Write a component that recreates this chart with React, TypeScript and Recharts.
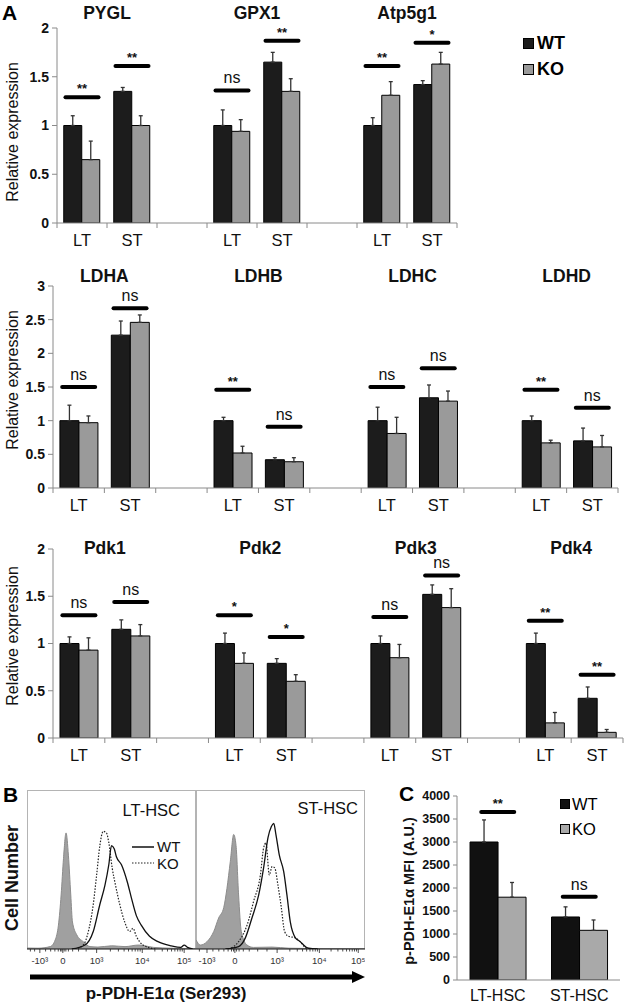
import React from 'react'
import { ComposedChart, Bar, Line, Area, XAxis, YAxis, ErrorBar } from 'recharts'

const FONT = 'Arial, "Liberation Sans", Helvetica, sans-serif'
const WT_COLOR = '#1c1c1c'
const KO_COLOR = '#9a9a9a'
const AXIS = '#8a8a8a'

const subsets = ['LT', 'ST']

// Panel A, top row
const genesTop = ['PYGL', 'GPX1', 'Atp5g1']
const wtTop = [1.0, 1.35, 1.0, 1.65, 1.0, 1.42]
const wtTopErr = [0.1, 0.04, 0.16, 0.1, 0.08, 0.04]
const koTop = [0.65, 1.0, 0.94, 1.35, 1.31, 1.63]
const koTopErr = [0.19, 0.1, 0.12, 0.13, 0.14, 0.12]
const sigTop = [1.29, 1.61, 1.36, 1.87, 1.61, 1.85]
const sigTopText = ['**', '**', 'ns', '**', '**', '*']

// Panel A, LDH row
const genesLdh = ['LDHA', 'LDHB', 'LDHC', 'LDHD']
const wtLdh = [1.0, 2.27, 1.0, 0.42, 1.0, 1.34, 1.0, 0.7]
const wtLdhErr = [0.23, 0.21, 0.05, 0.03, 0.2, 0.19, 0.07, 0.19]
const koLdh = [0.97, 2.46, 0.52, 0.39, 0.81, 1.29, 0.67, 0.61]
const koLdhErr = [0.1, 0.11, 0.1, 0.06, 0.24, 0.15, 0.04, 0.17]
const sigLdh = [1.5, 2.67, 1.46, 0.91, 1.5, 1.78, 1.46, 1.19]
const sigLdhText = ['ns', 'ns', '**', 'ns', 'ns', 'ns', '**', 'ns']

// Panel A, Pdk row
const genesPdk = ['Pdk1', 'Pdk2', 'Pdk3', 'Pdk4']
const wtPdk = [1.0, 1.15, 1.0, 0.79, 1.0, 1.52, 1.0, 0.42]
const wtPdkErr = [0.07, 0.1, 0.11, 0.05, 0.08, 0.1, 0.11, 0.12]
const koPdk = [0.93, 1.08, 0.79, 0.6, 0.85, 1.38, 0.16, 0.06]
const koPdkErr = [0.13, 0.12, 0.11, 0.07, 0.14, 0.2, 0.11, 0.03]
const sigPdk = [1.3, 1.44, 1.3, 1.07, 1.28, 1.72, 1.24, 0.67]
const sigPdkText = ['ns', 'ns', '*', '*', 'ns', 'ns', '**', '**']

// Panel C
const mfiCats = ['LT-HSC', 'ST-HSC']
const wtMfi = [3000, 1370]
const wtMfiErr = [480, 220]
const koMfi = [1800, 1080]
const koMfiErr = [320, 225]
const sigMfi = [3650, 1810]
const sigMfiText = ['**', 'ns']

// Panel B histograms (x: % of box width, y: % of box height)
const ltIsoX = [0, 6.5, 13.7, 16.7, 18.6, 20.2, 21.6, 23.1, 24.5, 25.9, 26.9, 29.4, 33.3, 37.3, 42, 50, 58, 66, 75, 85, 100]
const ltIsoY = [0.6, 0.5, 1.5, 5.7, 15, 34, 57, 73, 59, 34, 17, 9, 4.6, 1.5, 1.2, 2, 1.5, 2.5, 1, 0.5, 0]
const ltWtX = [26.5, 34.3, 39.2, 43.1, 46.1, 48.4, 50, 51.6, 52.9, 55.9, 59.4, 61.8, 64.7, 67.6, 72.5, 77.5, 85.3, 91, 93, 95, 98]
const ltWtY = [0, 2.5, 11, 28, 40, 53, 65, 63, 58, 53, 42, 32, 21, 15, 8, 4.6, 2, 1, 2.5, 1, 0]
const ltKoX = [28.4, 33.3, 36.3, 39.2, 41.2, 43.1, 45.1, 47, 48.4, 50.4, 52.4, 54.9, 57.8, 60.8, 62.7, 64.7, 68.6, 76]
const ltKoY = [0, 2.5, 11, 28, 46.5, 65, 74, 73, 67, 51, 40, 28, 17, 11, 13, 8, 2.5, 0]

const stIsoX = [0, 2.6, 6.5, 10.5, 13.4, 16.4, 18.3, 20.3, 22.3, 23.7, 25.2, 26.8, 30.2, 34, 45, 55, 100]
const stIsoY = [5.7, 2.5, 4.6, 11, 19.5, 26, 38, 55, 72, 65, 34, 11, 2.5, 1, 1.2, 0.5, 0]
const stWtX = [17.4, 25.2, 29.2, 33.1, 37.1, 40, 42.6, 44.6, 46, 47.3, 49.3, 51.9, 53.8, 55.8, 58.8, 61.7, 63.7, 66.6, 72]
const stWtY = [0, 1.5, 7, 19.5, 34, 51, 70, 77, 79, 72, 59, 48.6, 34, 17, 7, 4.6, 2.5, 0.5, 0]
const stKoX = [19.3, 25.2, 30.2, 34.1, 38.1, 40, 41.4, 43.4, 45, 46.6, 48.5, 50.5, 52.4, 54.7, 58.8, 61.7, 64.7, 68]
const stKoY = [0, 4.6, 15, 30, 46.5, 63.5, 66.7, 46.5, 51.8, 51, 40, 26, 11, 8, 7, 4.6, 1, 0]

const histTickLabels = ['-10³', '0', '10³', '10⁴', '10⁵']
const ltMajor = [7.6, 21.2, 41.2, 68.2, 93]
const stMajor = [6.5, 23, 48, 73, 96]

type Row = {
  key: string
  label: string
  wt?: number
  wtErr?: number[]
  ko?: number
  koErr?: number[]
  sig?: number
  sigText?: string
}

function buildRows(genes: string[], wt: number[], wtErr: number[], ko: number[], koErr: number[], sig: number[], sigText: string[]) {
  const rows: Row[] = []
  genes.forEach((g, gi) => {
    if (gi > 0) rows.push({ key: `gap${gi}`, label: '' })
    subsets.forEach((s, si) => {
      const i = gi * 2 + si
      rows.push({
        key: `${g}|${s}`,
        label: s,
        wt: wt[i],
        wtErr: [0, wtErr[i]],
        ko: ko[i],
        koErr: [0, koErr[i]],
        sig: sig[i],
        sigText: sigText[i],
      })
    })
  })
  return rows
}

// significance bar + text, drawn at the category centre
function sigDot(halfW: number) {
  return (p: any) => {
    const { cx, cy, payload, index } = p
    if (!payload || payload.sig == null || cy == null || isNaN(cy)) return <g key={`s${index}`} />
    const star = String(payload.sigText).includes('*')
    return (
      <g key={`s${index}`}>
        <line x1={cx - halfW} x2={cx + halfW} y1={cy} y2={cy} stroke="#000" strokeWidth={4} strokeLinecap="round" />
        <text
          x={cx}
          y={star ? cy - 4 : cy - 7}
          textAnchor="middle"
          fontFamily={FONT}
          fontSize={star ? 13 : 16}
          fontWeight={star ? 700 : 400}
          fill="#111"
        >
          {payload.sigText}
        </text>
      </g>
    )
  }
}

// bold numeric tick on the value axis
function valueTick(size: number) {
  return (p: any) => (
    <text
      key={`v${p.index}`}
      x={p.x}
      y={p.y}
      dy="0.35em"
      textAnchor="end"
      fontFamily={FONT}
      fontSize={size}
      fontWeight={700}
      fill="#111"
    >
      {p.payload.value}
    </text>
  )
}

const abs = (left: number, top: number, extra: React.CSSProperties = {}): React.CSSProperties => ({
  position: 'absolute',
  left,
  top,
  ...extra,
})

function Centered({ x, y, size, bold, children }: { x: number; y: number; size: number; bold?: boolean; children: React.ReactNode }) {
  return (
    <div
      style={abs(x, y, {
        transform: 'translate(-50%, -50%)',
        fontSize: size,
        fontWeight: bold ? 700 : 400,
        whiteSpace: 'nowrap',
        lineHeight: 1,
        color: '#111',
      })}
    >
      {children}
    </div>
  )
}

function Vertical({ x, y, size, bold, children }: { x: number; y: number; size: number; bold?: boolean; children: React.ReactNode }) {
  return (
    <div
      style={abs(x, y, {
        transform: 'translate(-50%, -50%) rotate(-90deg)',
        fontSize: size,
        fontWeight: bold ? 700 : 400,
        whiteSpace: 'nowrap',
        lineHeight: 1,
        color: '#111',
      })}
    >
      {children}
    </div>
  )
}

interface GeneRowProps {
  genes: string[]
  wt: number[]
  wtErr: number[]
  ko: number[]
  koErr: number[]
  sig: number[]
  sigText: string[]
  top: number
  height: number
  width: number
  plotLeft: number
  plotRight: number
  plotTop: number
  plotBottom: number
  yMax: number
  yTicks: number[]
  titleY: number
}

function GeneRow(props: GeneRowProps) {
  const { genes, top, height, width, plotLeft, plotRight, plotTop, plotBottom, yMax, yTicks, titleY } = props
  const rows = buildRows(genes, props.wt, props.wtErr, props.ko, props.koErr, props.sig, props.sigText)
  const n = rows.length
  const slot = (plotRight - plotLeft) / n
  const pb = plotBottom - top

  const renderTick = (p: any) => {
    const { x, payload, index } = p
    const row = rows.find((r) => r.key === payload.value)
    const left = x - slot / 2
    return (
      <g key={`t${index}`}>
        <line x1={left} x2={left} y1={pb} y2={pb + 5} stroke={AXIS} />
        {index === n - 1 ? <line x1={left + slot} x2={left + slot} y1={pb} y2={pb + 5} stroke={AXIS} /> : null}
        <text x={x} y={pb + 23} textAnchor="middle" fontFamily={FONT} fontSize={16.5} fill="#111">
          {row ? row.label : ''}
        </text>
      </g>
    )
  }

  return (
    <>
      <div style={abs(0, top)}>
        <ComposedChart
          width={width}
          height={height}
          data={rows}
          margin={{ top: plotTop - top, right: width - plotRight, bottom: 0, left: 0 }}
          barCategoryGap="13.5%"
          barGap={0}
        >
          <XAxis
            dataKey="key"
            type="category"
            interval={0}
            height={height - pb}
            tickLine={false}
            axisLine={{ stroke: AXIS }}
            tick={renderTick}
          />
          <YAxis
            width={plotLeft}
            type="number"
            domain={[0, yMax]}
            ticks={yTicks}
            allowDataOverflow
            tickSize={5}
            tickMargin={3}
            tickLine={{ stroke: AXIS }}
            axisLine={{ stroke: AXIS }}
            tick={valueTick(14)}
          />
          <Bar dataKey="wt" fill={WT_COLOR} stroke="#000" strokeWidth={1} isAnimationActive={false}>
            <ErrorBar dataKey="wtErr" width={2} stroke="#333" strokeWidth={1.3} direction="y" />
          </Bar>
          <Bar dataKey="ko" fill={KO_COLOR} stroke="#000" strokeWidth={1} isAnimationActive={false}>
            <ErrorBar dataKey="koErr" width={2} stroke="#333" strokeWidth={1.3} direction="y" />
          </Bar>
          <Line dataKey="sig" stroke="none" dot={sigDot(16.5)} activeDot={false} isAnimationActive={false} />
        </ComposedChart>
      </div>
      {genes.map((g, gi) => (
        <Centered key={g} x={plotLeft + slot * (gi * 3 + 1)} y={titleY} size={17.5} bold>
          {g}
        </Centered>
      ))}
    </>
  )
}

function MfiChart() {
  const rows = mfiCats.map((c, i) => ({
    key: c,
    wt: wtMfi[i],
    wtErr: [0, wtMfiErr[i]],
    ko: koMfi[i],
    koErr: [0, koMfiErr[i]],
    sig: sigMfi[i],
    sigText: sigMfiText[i],
  }))
  const top = 780
  const pb = 200
  const renderTick = (p: any) => (
    <text key={`c${p.index}`} x={p.x} y={pb + 21} textAnchor="middle" fontFamily={FONT} fontSize={16} fill="#111">
      {p.payload.value}
    </text>
  )
  return (
    <div style={abs(400, top)}>
      <ComposedChart
        width={225}
        height={226}
        data={rows}
        margin={{ top: 16, right: 5, bottom: 0, left: 0 }}
        barCategoryGap="16%"
        barGap={0}
      >
        <XAxis dataKey="key" type="category" interval={0} height={26} tickLine={false} axisLine={{ stroke: AXIS }} tick={renderTick} />
        <YAxis
          width={57}
          type="number"
          domain={[0, 4000]}
          ticks={[0, 500, 1000, 1500, 2000, 2500, 3000, 3500, 4000]}
          allowDataOverflow
          tickSize={4}
          tickMargin={3}
          tickLine={{ stroke: AXIS }}
          axisLine={{ stroke: AXIS }}
          tick={valueTick(12.5)}
        />
        <Bar dataKey="wt" fill="#111" stroke="#000" strokeWidth={1} isAnimationActive={false}>
          <ErrorBar dataKey="wtErr" width={2} stroke="#333" strokeWidth={1.3} direction="y" />
        </Bar>
        <Bar dataKey="ko" fill="#a9a9a9" stroke="#000" strokeWidth={1} isAnimationActive={false}>
          <ErrorBar dataKey="koErr" width={2} stroke="#333" strokeWidth={1.3} direction="y" />
        </Bar>
        <Line dataKey="sig" stroke="none" dot={sigDot(16.5)} activeDot={false} isAnimationActive={false} />
      </ComposedChart>
    </div>
  )
}

function decadeTicks(from: number, to: number) {
  return [2, 3, 4, 5, 6, 7, 8, 9].map((k) => from + (to - from) * Math.log10(k))
}

function mergeSeries(series: Record<string, [number[], number[]]>) {
  const rows: Record<string, number>[] = []
  Object.entries(series).forEach(([name, [xs, ys]]) => {
    xs.forEach((x, i) => rows.push({ x, [name]: ys[i] }))
  })
  return rows.sort((a, b) => a.x - b.x)
}

function HistBox({ left, major, minor, iso, wt, ko }: {
  left: number
  major: number[]
  minor: number[]
  iso: [number[], number[]]
  wt: [number[], number[]]
  ko: [number[], number[]]
}) {
  const boxTop = 790
  const boxW = 169
  const boxH = 159
  const data = mergeSeries({ iso, wt, ko })
  const renderTick = (p: any) => {
    const { x, payload, index } = p
    const mi = major.indexOf(payload.value)
    return (
      <g key={`h${index}`}>
        <line x1={x} x2={x} y1={boxH} y2={boxH + (mi >= 0 ? 4 : 2.5)} stroke="#222" strokeWidth={0.8} />
        {mi >= 0 ? (
          <text x={x} y={boxH + 15} textAnchor="middle" fontFamily={FONT} fontSize={9.5} fill="#333">
            {histTickLabels[mi]}
          </text>
        ) : null}
      </g>
    )
  }
  return (
    <>
      <div style={abs(left, boxTop, { width: boxW, height: boxH, border: '1px solid #b4b4b4', boxSizing: 'border-box' })} />
      <div style={abs(left, boxTop)}>
        <ComposedChart width={boxW} height={boxH + 22} data={data} margin={{ top: 0, right: 0, bottom: 0, left: 0 }}>
          <XAxis
            dataKey="x"
            type="number"
            domain={[0, 100]}
            allowDataOverflow
            ticks={[...major, ...minor]}
            interval={0}
            height={22}
            tickLine={false}
            axisLine={{ stroke: '#111' }}
            tick={renderTick}
          />
          <YAxis hide type="number" domain={[0, 100]} allowDataOverflow />
          <Area
            dataKey="iso"
            type="monotone"
            fill="#a0a0a0"
            fillOpacity={1}
            stroke="#8c8c8c"
            strokeWidth={1}
            connectNulls
            dot={false}
            activeDot={false}
            isAnimationActive={false}
          />
          <Line dataKey="ko" type="monotone" stroke="#222" strokeWidth={1.2} strokeDasharray="1.5 1.5" connectNulls dot={false} activeDot={false} isAnimationActive={false} />
          <Line dataKey="wt" type="monotone" stroke="#111" strokeWidth={1.3} connectNulls dot={false} activeDot={false} isAnimationActive={false} />
        </ComposedChart>
      </div>
    </>
  )
}

const ltMinor = [2, 4.5, 11, 14, 16.5, 18.5, 19.8, 20.6, 22, 23, 24.5, 27, 30.5, 35, ...decadeTicks(41.2, 68.2), ...decadeTicks(68.2, 93)]
const stMinor = [2, 10, 13.5, 16.5, 19, 21, 22.2, 24, 25.5, 28, 31.5, 36.5, 42, ...decadeTicks(48, 73), ...decadeTicks(73, 96)]

export default function App() {
  return (
    <div
      style={{
        position: 'absolute',
        left: 0,
        top: 0,
        width: 625,
        height: 1006,
        overflow: 'hidden',
        background: '#fff',
        fontFamily: FONT,
      }}
    >
      {/* Panel A */}
      <div style={abs(2, 2, { fontSize: 21, fontWeight: 700, lineHeight: 1 })}>A</div>
      <GeneRow
        genes={genesTop}
        wt={wtTop}
        wtErr={wtTopErr}
        ko={koTop}
        koErr={koTopErr}
        sig={sigTop}
        sigText={sigTopText}
        top={0}
        height={252}
        width={470}
        plotLeft={57}
        plotRight={457}
        plotTop={28}
        plotBottom={223}
        yMax={2}
        yTicks={[0, 0.5, 1, 1.5, 2]}
        titleY={14}
      />
      <Vertical x={13} y={132} size={16}>Relative expression</Vertical>
      <div style={abs(523, 38, { width: 9, height: 9, background: WT_COLOR, border: '1px solid #000' })} />
      <div style={abs(523, 64, { width: 9, height: 9, background: KO_COLOR, border: '1px solid #000' })} />
      <div style={abs(537, 34, { fontSize: 18, fontWeight: 700, lineHeight: 1 })}>WT</div>
      <div style={abs(537, 60, { fontSize: 18, fontWeight: 700, lineHeight: 1 })}>KO</div>

      <GeneRow
        genes={genesLdh}
        wt={wtLdh}
        wtErr={wtLdhErr}
        ko={koLdh}
        koErr={koLdhErr}
        sig={sigLdh}
        sigText={sigLdhText}
        top={255}
        height={265}
        width={625}
        plotLeft={53}
        plotRight={618}
        plotTop={286}
        plotBottom={488}
        yMax={3}
        yTicks={[0, 0.5, 1, 1.5, 2, 2.5, 3]}
        titleY={277}
      />
      <Vertical x={13} y={380} size={16}>Relative expression</Vertical>

      <GeneRow
        genes={genesPdk}
        wt={wtPdk}
        wtErr={wtPdkErr}
        ko={koPdk}
        koErr={koPdkErr}
        sig={sigPdk}
        sigText={sigPdkText}
        top={520}
        height={250}
        width={625}
        plotLeft={53}
        plotRight={623}
        plotTop={549}
        plotBottom={738}
        yMax={2}
        yTicks={[0, 0.5, 1, 1.5, 2]}
        titleY={549}
      />
      <Vertical x={13} y={636} size={16}>Relative expression</Vertical>

      {/* Panel B */}
      <div style={abs(3, 784, { fontSize: 21, fontWeight: 700, lineHeight: 1 })}>B</div>
      <Vertical x={12} y={878} size={18} bold>Cell Number</Vertical>
      <HistBox left={27} major={ltMajor} minor={ltMinor} iso={[ltIsoX, ltIsoY]} wt={[ltWtX, ltWtY]} ko={[ltKoX, ltKoY]} />
      <HistBox left={196} major={stMajor} minor={stMinor} iso={[stIsoX, stIsoY]} wt={[stWtX, stWtY]} ko={[stKoX, stKoY]} />
      <svg width={625} height={1006} style={abs(0, 0, { pointerEvents: 'none' })}>
        <text x={180} y={816} textAnchor="end" fontFamily={FONT} fontSize={16.5} fill="#111">LT-HSC</text>
        <text x={358} y={814} textAnchor="end" fontFamily={FONT} fontSize={16.5} fill="#111">ST-HSC</text>
        <line x1={132} x2={154} y1={847} y2={847} stroke="#111" strokeWidth={1.5} />
        <line x1={132} x2={154} y1={863} y2={863} stroke="#222" strokeWidth={1.2} strokeDasharray="1.5 1.5" />
        <text x={157} y={852} fontFamily={FONT} fontSize={15} fill="#111">WT</text>
        <text x={157} y={869} fontFamily={FONT} fontSize={15} fill="#111">KO</text>
        <line x1={30} x2={354} y1={977} y2={977} stroke="#000" strokeWidth={5} />
        <polygon points="352,971 365,977 352,983" fill="#000" />
      </svg>
      <Centered x={166} y={993} size={17} bold>p-PDH-E1α (Ser293)</Centered>

      {/* Panel C */}
      <div style={abs(399, 783, { fontSize: 21, fontWeight: 700, lineHeight: 1 })}>C</div>
      <Vertical x={409} y={891} size={14.5} bold>p-PDH-E1α MFI (A.U.)</Vertical>
      <MfiChart />
      <div style={abs(560, 799, { width: 8, height: 8, background: '#111', border: '1px solid #000' })} />
      <div style={abs(560, 824, { width: 8, height: 8, background: '#a9a9a9', border: '1px solid #000' })} />
      <div style={abs(572, 796, { fontSize: 16.5, lineHeight: 1 })}>WT</div>
      <div style={abs(572, 821, { fontSize: 16.5, lineHeight: 1 })}>KO</div>
    </div>
  )
}
